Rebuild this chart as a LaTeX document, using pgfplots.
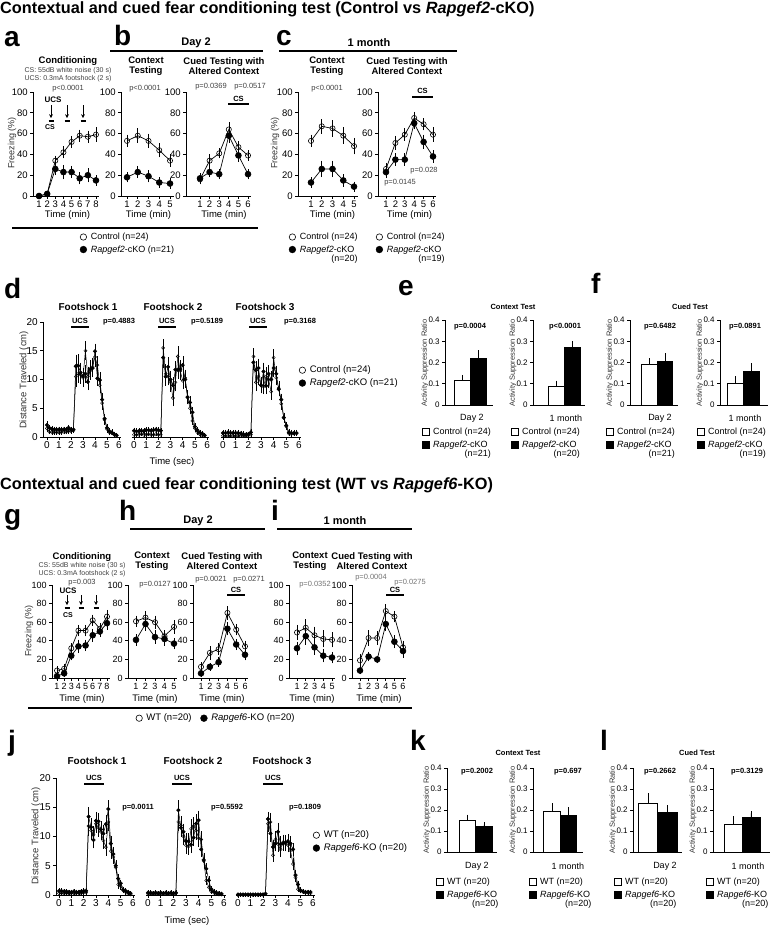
\documentclass[border=0pt]{standalone}
\usepackage{fontspec}
\setmainfont{Liberation Sans}
\usepackage{pgfplots}
\pgfplotsset{compat=1.18}
\usepackage{pgfplotstable}
\usetikzlibrary{arrows.meta}
\newcommand{\fs}[1]{\fontsize{#1}{#1}\selectfont}
\definecolor{pg}{gray}{0.25}
\definecolor{lg}{gray}{0.45}
\definecolor{tg}{gray}{0.2}

\pgfplotstableread{
t c ce k ke
0.0 1.5 0.4 2.1 0.4
0.2 0.9 0.2 1.6 0.3
0.4 0.8 0.2 1.4 0.3
0.6 0.8 0.2 1.3 0.3
0.8 0.8 0.2 1.3 0.3
1.0 0.8 0.2 1.3 0.3
1.2 0.8 0.2 1.3 0.3
1.4 0.9 0.2 1.3 0.3
1.6 0.9 0.2 1.3 0.3
1.8 1.0 0.2 1.6 0.3
2.0 1.0 0.2 1.3 0.3
2.2 1.1 0.2 1.3 0.3
2.4 10.5 1.6 12.3 1.8
2.6 11.0 1.4 12.4 1.8
2.8 10.8 1.3 11.2 1.5
3.0 10.3 1.4 10.6 1.2
3.2 15.0 1.4 11.0 1.3
3.4 10.5 1.5 9.6 1.2
3.6 11.5 1.3 11.8 1.3
3.8 12.2 1.4 12.0 1.4
4.0 13.9 1.5 14.9 1.1
4.2 12.5 1.3 10.2 1.1
4.4 9.0 1.2 9.9 1.2
4.6 5.9 0.9 6.5 0.9
4.8 3.0 0.6 3.2 0.6
5.0 1.4 0.4 1.6 0.4
5.2 0.8 0.3 1.0 0.3
5.4 0.7 0.2 0.8 0.3
5.6 0.4 0.2 0.5 0.2
5.8 0.3 0.2 0.3 0.2
}\dA
\pgfplotstableread{
t c ce k ke
0.0 0.4 0.15 1.1 0.3
0.2 0.4 0.15 1.0 0.3
0.4 0.4 0.15 1.0 0.3
0.6 0.5 0.15 1.1 0.3
0.8 0.4 0.15 1.0 0.3
1.0 0.4 0.15 1.2 0.3
1.2 0.5 0.15 1.2 0.3
1.4 0.4 0.15 1.1 0.3
1.6 0.4 0.15 1.2 0.3
1.8 0.5 0.15 1.3 0.3
2.0 0.4 0.15 1.2 0.3
2.2 0.4 0.15 1.1 0.3
2.4 15.5 1.3 13.8 1.5
2.6 11.0 1.5 10.5 1.4
2.8 10.5 1.3 12.2 1.5
3.0 9.5 1.4 10.0 1.3
3.2 6.8 1.2 9.0 1.2
3.4 9.5 1.3 11.7 1.3
3.6 14.0 1.6 11.7 1.4
3.8 11.5 1.4 11.8 1.3
4.0 9.8 1.3 12.5 1.3
4.2 10.3 1.2 10.0 1.2
4.4 7.0 1.0 6.9 1.0
4.6 5.0 0.8 6.0 0.9
4.8 2.8 0.5 4.3 0.7
5.0 1.5 0.4 1.8 0.4
5.2 0.8 0.3 1.2 0.3
5.4 0.5 0.2 0.8 0.2
5.6 0.3 0.2 0.6 0.2
5.8 0.3 0.1 0.3 0.2
}\dB
\pgfplotstableread{
t c ce k ke
0.0 0.2 0.1 0.7 0.3
0.2 0.2 0.1 0.7 0.3
0.4 0.2 0.1 0.8 0.3
0.6 0.2 0.1 0.7 0.3
0.8 0.2 0.1 0.7 0.3
1.0 0.2 0.1 0.7 0.3
1.2 0.2 0.1 0.7 0.3
1.4 0.2 0.1 0.6 0.3
1.6 0.2 0.1 0.5 0.3
1.8 0.2 0.1 0.4 0.2
2.0 0.3 0.1 0.5 0.2
2.2 0.4 0.1 0.8 0.3
2.4 14.0 1.2 13.0 1.2
2.6 9.5 1.3 11.6 1.4
2.8 10.5 1.3 12.0 1.4
3.0 9.0 1.2 9.0 1.2
3.2 8.8 1.1 11.4 1.3
3.4 10.5 1.4 8.9 1.2
3.6 10.0 1.3 11.0 1.3
3.8 7.9 1.2 10.0 1.2
4.0 13.8 1.2 12.0 1.3
4.2 10.3 1.1 11.0 1.2
4.4 8.5 1.0 8.3 1.0
4.6 5.8 0.8 6.5 0.8
4.8 3.3 0.6 3.4 0.6
5.0 1.8 0.4 2.0 0.4
5.2 0.6 0.2 0.8 0.3
5.4 0.5 0.2 0.7 0.3
5.6 0.6 0.2 0.7 0.3
5.8 0.6 0.2 0.7 0.3
}\dC
\pgfplotstableread{
t c ce k ke
0.0 0.3 0.1 0.7 0.2
0.2 0.3 0.1 0.7 0.2
0.4 0.3 0.1 0.6 0.2
0.6 0.3 0.1 0.6 0.2
0.8 0.3 0.1 0.5 0.2
1.0 0.3 0.1 0.5 0.2
1.2 0.3 0.1 0.6 0.2
1.4 0.3 0.1 0.5 0.2
1.6 0.3 0.1 0.5 0.2
1.8 0.3 0.1 0.6 0.2
2.0 0.4 0.1 0.7 0.2
2.2 0.4 0.1 0.7 0.2
2.4 11.8 1.5 13.4 1.4
2.6 11.0 1.3 11.6 1.3
2.8 10.3 1.2 9.4 1.2
3.0 12.2 1.4 12.7 1.3
3.2 11.5 1.3 12.6 1.2
3.4 10.8 1.2 11.2 1.2
3.6 9.3 1.2 10.5 1.3
3.8 8.2 1.3 12.1 1.4
4.0 12.5 1.4 14.7 1.3
4.2 7.5 1.1 8.8 1.1
4.4 6.5 0.9 7.0 1.0
4.6 4.7 0.8 5.0 0.8
4.8 1.8 0.5 2.8 0.6
5.0 1.5 0.4 2.0 0.4
5.2 0.8 0.3 0.9 0.3
5.4 0.5 0.2 0.7 0.2
5.6 0.2 0.1 0.5 0.2
5.8 0.1 0.1 0.3 0.1
}\jA
\pgfplotstableread{
t c ce k ke
0.0 0.2 0.1 0.4 0.15
0.2 0.2 0.1 0.4 0.15
0.4 0.2 0.1 0.3 0.15
0.6 0.2 0.1 0.4 0.15
0.8 0.2 0.1 0.3 0.15
1.0 0.2 0.1 0.4 0.15
1.2 0.2 0.1 0.3 0.15
1.4 0.2 0.1 0.4 0.15
1.6 0.2 0.1 0.3 0.15
1.8 0.2 0.1 0.4 0.15
2.0 0.2 0.1 0.3 0.15
2.2 0.3 0.1 0.4 0.15
2.4 12.5 1.4 14.5 1.5
2.6 11.9 1.3 11.5 1.3
2.8 10.0 1.3 10.8 1.2
3.0 8.5 1.2 9.2 1.1
3.2 8.3 1.2 9.2 1.1
3.4 11.3 1.4 8.6 1.2
3.6 11.8 1.3 9.8 1.2
3.8 11.0 1.3 12.2 1.4
4.0 9.7 1.3 12.8 1.4
4.2 9.5 1.2 7.8 1.1
4.4 5.8 0.9 6.0 0.9
4.6 2.5 0.5 4.5 0.7
4.8 1.3 0.4 2.5 0.5
5.0 0.6 0.2 1.0 0.3
5.2 0.4 0.2 0.6 0.2
5.4 0.2 0.1 0.4 0.2
5.6 0.1 0.1 0.3 0.1
5.8 0.1 0.1 0.2 0.1
}\jB
\pgfplotstableread{
t c ce k ke
0.0 0.0 0.1 0.1 0.1
0.2 0.0 0.1 0.1 0.1
0.4 0.0 0.1 0.1 0.1
0.6 0.0 0.1 0.1 0.1
0.8 0.0 0.1 0.1 0.1
1.0 0.0 0.1 0.1 0.1
1.2 0.0 0.1 0.1 0.1
1.4 0.0 0.1 0.1 0.1
1.6 0.0 0.1 0.1 0.1
1.8 0.0 0.1 0.1 0.1
2.0 0.1 0.1 0.1 0.1
2.2 0.2 0.1 0.2 0.1
2.4 12.2 1.2 13.0 1.0
2.6 12.5 1.3 10.5 1.2
2.8 6.8 0.9 8.2 1.0
3.0 9.5 1.2 8.8 1.1
3.2 8.7 1.1 10.8 1.3
3.4 7.8 1.1 8.7 1.1
3.6 9.0 1.1 8.8 1.0
3.8 8.8 1.1 9.0 1.0
4.0 8.5 1.0 9.2 1.0
4.2 7.6 1.0 8.8 1.0
4.4 5.3 0.8 7.8 0.9
4.6 3.0 0.6 3.4 0.6
4.8 1.0 0.3 1.8 0.4
5.0 0.7 0.2 0.8 0.3
5.2 0.6 0.2 0.6 0.2
5.4 0.4 0.2 0.5 0.2
5.6 0.4 0.2 0.5 0.2
5.8 0.3 0.2 0.5 0.2
}\jC

\pgfplotsset{
  every axis/.append style={/pgf/number format/assume math mode=true, scale only axis, clip=false,
    axis x line*=bottom, axis y line*=left, axis line style={line width=0.8pt},
    tick align=outside, major tick length=2.8pt, tick style={black, line width=0.7pt},
    tick label style={font=\fs{9.5}}, minor tick num=0, scaled ticks=false,
    xticklabel style={yshift=1.5pt}, yticklabel style={xshift=1pt}},
  fz/.style={ymin=0, ymax=100, ytick={0,20,40,60,80,100}, height=104pt},
  fzb/.style={ymin=0, ymax=100, ytick={0,20,40,60,80,100}, height=93pt, tick label style={font=\fs{9}}},
  ds/.style={ymin=0, ymax=20, ytick={0,5,10,15,20}, xtick={0,...,6}, tick label style={font=\fs{10}}},
  nodeY/.style={axis y line=none},
  baxis/.style={ymin=0, ymax=0.4, ytick={0,0.1,0.2,0.3,0.4}, xtick=\empty,
    yticklabel style={/pgf/number format/fixed, /pgf/number format/precision=1, font=\fs{8}}},
  ctl/.style={black, line width=0.7pt, mark=o, mark size=2.6pt, mark options={fill=white, line width=0.6pt},
    /pgfplots/error bars/y dir=both, /pgfplots/error bars/y explicit,
    /pgfplots/error bars/error bar style={line width=0.6pt},
    /pgfplots/error bars/error mark options={line width=0.6pt, mark size=2pt}},
  mut/.style={ctl, mark=*, mark size=2.9pt, mark options={fill=black}},
  dctl/.style={ctl, line width=0.5pt, mark size=1.6pt, mark options={fill=white, line width=0.4pt},
    /pgfplots/error bars/error bar style={line width=0.4pt},
    /pgfplots/error bars/error mark options={line width=0.4pt, mark size=1.3pt}},
  dmut/.style={dctl, mark=*, mark size=1.8pt, mark options={fill=black}},
  bw/.style={ybar, bar shift=0pt, bar width=1, fill=white, draw=black, line width=0.7pt,
    /pgfplots/error bars/y dir=plus, /pgfplots/error bars/y explicit,
    /pgfplots/error bars/error bar style={line width=0.7pt},
    /pgfplots/error bars/error mark options={line width=0.7pt, mark size=2.2pt}},
  bk/.style={bw, fill=black},
  legax/.style={hide axis, scale only axis, width=5pt, height=5pt, xmin=0, xmax=1, ymin=0, ymax=1, anchor=north west,
    legend style={at={(0,1)}, anchor=north west, draw=none, fill=none, inner sep=0pt, outer sep=0pt,
      font=\fs{9}, row sep=0.5pt, /tikz/every odd column/.append style={column sep=2pt}},
    legend cell align=left},
  lcirc/.style={legend image code/.code={\draw[##1] plot coordinates {(0pt,0pt)};}},
  lsq/.style={legend image code/.code={\draw[##1] (-3.3pt,-3.3pt) rectangle (3.3pt,3.3pt);}},
}
\tikzset{
  ttl/.style={font=\bfseries\fs{16.3}, anchor=base west, inner sep=0pt},
  let/.style={font=\bfseries\fs{28}, anchor=base west, inner sep=0pt},
  hd/.style={font=\bfseries\fs{11}, inner sep=0pt},
  sub/.style={font=\bfseries\fontsize{9.5}{10}\selectfont, align=center, inner sep=0pt},
  sm/.style={font=\fs{7}, text=pg, inner sep=0pt},
  pv/.style={font=\fs{7.5}, text=pg, inner sep=0pt},
  pvl/.style={font=\fs{7.5}, text=lg, inner sep=0pt},
  pb/.style={font=\bfseries\fs{7.5}, inner sep=0pt},
  xl/.style={font=\fs{9.5}, inner sep=0pt},
  yl/.style={font=\fs{9}, text=tg, rotate=90, inner sep=0pt},
  ylb/.style={font=\fs{7.5}, text=tg, rotate=90, inner sep=0pt},
  fsh/.style={font=\bfseries\fs{10}, inner sep=0pt},
  cat/.style={font=\fs{9}, inner sep=0pt},
  bt/.style={font=\bfseries\fs{7.5}, inner sep=0pt},
}
\newcommand{\lcont}[1]{\begin{tabular}[t]{@{}l@{}}\textit{Rapgef2}-cKO\\\hspace*{31.5pt}(n=#1)\end{tabular}}
\newcommand{\lwt}{\begin{tabular}[t]{@{}l@{}}\textit{Rapgef6}-KO\\\hspace*{25pt}(n=20)\end{tabular}}

\begin{document}
\begin{tikzpicture}
\path[use as bounding box] (0pt,0pt) rectangle (779pt,-927pt);

% ================= ROW 1 =================
\begin{axis}[fz, at={(33pt,-196pt)}, anchor=south west, width=66pt, xmin=0.26, xmax=8.37, xtick={1,...,8}]
\addplot[ctl] coordinates {(1,0)+-(0,1) (2,2)+-(0,1) (3,34)+-(0,3) (4,42)+-(0,4) (5,52)+-(0,4) (6,58)+-(0,4) (7,57)+-(0,4) (8,59)+-(0,5)};
\addplot[mut] coordinates {(1,0)+-(0,1) (2,2)+-(0,1) (3,26)+-(0,4) (4,23)+-(0,5) (5,23)+-(0,4) (6,17)+-(0,4) (7,20)+-(0,5) (8,15)+-(0,3)};
\end{axis}
\begin{axis}[fz, at={(121pt,-196pt)}, anchor=south west, width=53pt, xmin=0.44, xmax=5.37, xtick={1,...,5}]
\addplot[ctl] coordinates {(1,53)+-(0,4) (2,58)+-(0,5) (3,53)+-(0,5) (4,44)+-(0,5) (5,34)+-(0,4)};
\addplot[mut] coordinates {(1,18)+-(0,3) (2,23)+-(0,4) (3,19)+-(0,4) (4,13)+-(0,3) (5,12)+-(0,3)};
\end{axis}
\begin{axis}[fz, at={(186pt,-196pt)}, anchor=south west, width=65pt, xmin=-0.46, xmax=6.31, xtick={1,...,6}]
\addplot[ctl] coordinates {(1,16)+-(0,3) (2,34)+-(0,4) (3,41)+-(0,3) (4,64)+-(0,5) (5,47)+-(0,4) (6,39)+-(0,3)};
\addplot[mut] coordinates {(1,17)+-(0,3) (2,23)+-(0,3) (3,21)+-(0,3) (4,58)+-(0,5) (5,39)+-(0,4) (6,21)+-(0,3)};
\end{axis}
\begin{axis}[fz, at={(298pt,-196pt)}, anchor=south west, width=60pt, xmin=-0.21, xmax=5.37, xtick={1,...,5}]
\addplot[ctl] coordinates {(1,53)+-(0,4) (2,67)+-(0,5) (3,65)+-(0,6) (4,58)+-(0,6) (5,48)+-(0,6)};
\addplot[mut] coordinates {(1,13)+-(0,3) (2,26)+-(0,6) (3,26)+-(0,6) (4,15)+-(0,4) (5,9)+-(0,3)};
\end{axis}
\begin{axis}[fz, at={(378pt,-196pt)}, anchor=south west, width=58pt, xmin=0.15, xmax=6.32, xtick={1,...,6}]
\addplot[ctl] coordinates {(1,26)+-(0,4) (2,51)+-(0,5) (3,59)+-(0,4) (4,75)+-(0,4) (5,69)+-(0,4) (6,59)+-(0,5)};
\addplot[mut] coordinates {(1,23)+-(0,4) (2,35)+-(0,4) (3,35)+-(0,4) (4,70)+-(0,4) (5,52)+-(0,5) (6,38)+-(0,4)};
\end{axis}

\node[ttl] at (0pt,-13pt) {Contextual and cued fear conditioning test (Control vs \textit{Rapgef2}-cKO)};
\node[let] at (4pt,-46pt) {a};
\node[let] at (114pt,-45pt) {b};
\node[let] at (276pt,-45pt) {c};
\node[hd] at (196pt,-43pt) {Day 2};
\draw[line width=1.3pt] (110pt,-51pt) -- (263pt,-51pt);
\node[hd] at (369pt,-43pt) {1 month};
\draw[line width=1.3pt] (279pt,-51pt) -- (457pt,-51pt);
\node[sub] at (68pt,-61pt) {Conditioning};
\node[sm] at (68pt,-71pt) {CS: 55dB white noise (30 s)};
\node[sm] at (68pt,-79pt) {UCS: 0.3mA footshock (2 s)};
\node[sub] at (146pt,-66pt) {Context\\Testing};
\node[sub] at (224pt,-66pt) {Cued Testing with\\Altered Context};
\node[sub] at (327pt,-66pt) {Context\\Testing};
\node[sub] at (407pt,-66pt) {Cued Testing with\\Altered Context};
\node[pv] at (68pt,-89pt) {p<0.0001};
\node[pv] at (145pt,-89pt) {p<0.0001};
\node[pv] at (211pt,-87pt) {p=0.0369};
\node[pv] at (250pt,-87pt) {p=0.0517};
\node[pv] at (327pt,-89pt) {p<0.0001};
\node[pv] at (400pt,-183pt) {p=0.0145};
\node[pv] at (424pt,-171pt) {p=0.028};
\draw[line width=1.2pt] (228pt,-104pt) -- (249pt,-104pt);
\node[font=\bfseries\fs{7.5}, inner sep=0pt] at (238.5pt,-99pt) {CS};
\draw[line width=1.2pt] (412pt,-97pt) -- (433pt,-97pt);
\node[font=\bfseries\fs{7.5}, inner sep=0pt] at (422.5pt,-91pt) {CS};
\node[font=\bfseries\fs{8}, inner sep=0pt] at (53pt,-100pt) {UCS};
\foreach \ax in {51,67,83}{
  \draw[-{Stealth[length=3.8pt,width=3.8pt]}, line width=0.9pt] (\ax pt,-105pt) -- (\ax pt,-118pt);
  \draw[line width=1.1pt] (\ax pt-2.5pt,-121pt) -- (\ax pt+2.5pt,-121pt);
}
\node[font=\bfseries\fs{7}, inner sep=0pt] at (50pt,-127pt) {CS};
\node[yl] at (12pt,-143pt) {Freezing (\%)};
\node[yl] at (275pt,-143pt) {Freezing (\%)};
\node[xl] at (67.5pt,-215pt) {Time (min)};
\node[xl] at (148.5pt,-215pt) {Time (min)};
\node[xl] at (224pt,-215pt) {Time (min)};
\node[xl] at (332.5pt,-215pt) {Time (min)};
\node[xl] at (409.5pt,-215pt) {Time (min)};
\draw[line width=1.3pt] (12pt,-228pt) -- (258pt,-228pt);

\begin{axis}[legax, lcirc, at={(80pt,-231pt)}]
\addlegendimage{only marks, mark=o, mark size=3.2pt, mark options={fill=white, line width=0.6pt}, black}
\addlegendentry{Control (n=24)}
\addlegendimage{only marks, mark=*, mark size=3.4pt, black}
\addlegendentry{\textit{Rapgef2}-cKO (n=21)}
\end{axis}
\begin{axis}[legax, lcirc, at={(289pt,-231pt)}]
\addlegendimage{only marks, mark=o, mark size=3.2pt, mark options={fill=white, line width=0.6pt}, black}
\addlegendentry{Control (n=24)}
\addlegendimage{only marks, mark=*, mark size=3.4pt, black}
\addlegendentry{\lcont{20}}
\end{axis}
\begin{axis}[legax, lcirc, at={(376pt,-231pt)}]
\addlegendimage{only marks, mark=o, mark size=3.2pt, mark options={fill=white, line width=0.6pt}, black}
\addlegendentry{Control (n=24)}
\addlegendimage{only marks, mark=*, mark size=3.4pt, black}
\addlegendentry{\lcont{19}}
\end{axis}

% ================= ROW 2 : d =================
\begin{axis}[ds, at={(43pt,-437pt)}, anchor=south west, width=78pt, height=115pt, xmin=-0.333, xmax=6.167]
\addplot[dctl] table[x=t, y=c, y error=ce] {\dA};
\addplot[dmut] table[x=t, y=k, y error=ke] {\dA};
\end{axis}
\begin{axis}[ds, nodeY, at={(132pt,-437pt)}, anchor=south west, width=77pt, height=115pt, xmin=-0.164, xmax=6.16]
\addplot[dctl] table[x=t, y=c, y error=ce] {\dB};
\addplot[dmut] table[x=t, y=k, y error=ke] {\dB};
\end{axis}
\begin{axis}[ds, nodeY, at={(221pt,-437pt)}, anchor=south west, width=80pt, height=115pt, xmin=-0.158, xmax=6.158]
\addplot[dctl] table[x=t, y=c, y error=ce] {\dC};
\addplot[dmut] table[x=t, y=k, y error=ke] {\dC};
\end{axis}
\node[let] at (4pt,-298pt) {d};
\node[fsh] at (88pt,-307pt) {Footshock 1};
\node[fsh] at (173pt,-307pt) {Footshock 2};
\node[fsh] at (265pt,-307pt) {Footshock 3};
\node[pb] at (80pt,-321pt) {UCS};
\draw[line width=1.2pt] (71pt,-327pt) -- (89pt,-327pt);
\node[pb] at (167pt,-321pt) {UCS};
\draw[line width=1.2pt] (158pt,-327pt) -- (176pt,-327pt);
\node[pb] at (258pt,-321pt) {UCS};
\draw[line width=1.2pt] (249pt,-327pt) -- (267pt,-327pt);
\node[pb] at (119pt,-322pt) {p=0.4883};
\node[pb] at (207pt,-322pt) {p=0.5189};
\node[pb] at (300pt,-322pt) {p=0.3168};
\node[yl, font=\fs{9.5}] at (24pt,-380pt) {Distance Traveled (cm)};
\node[xl] at (172pt,-462pt) {Time (sec)};
\begin{axis}[legax, lcirc, at={(299pt,-364pt)}, legend style={font=\fs{9.5}}]
\addlegendimage{only marks, mark=o, mark size=3.2pt, mark options={fill=white, line width=0.6pt}, black}
\addlegendentry{Control (n=24)}
\addlegendimage{only marks, mark=*, mark size=3.4pt, black}
\addlegendentry{\textit{Rapgef2}-cKO (n=21)}
\end{axis}

% ================= ROW 2 : e, f =================
\begin{axis}[baxis, at={(445pt,-405pt)}, anchor=south west, width=48pt, height=85pt, xmin=-0.094, xmax=2.906]
\addplot[bw] coordinates {(1,0.115)+-(0,0.016)};
\addplot[bk] coordinates {(2,0.221)+-(0,0.026)};
\end{axis}
\begin{axis}[baxis, at={(533pt,-405pt)}, anchor=south west, width=52pt, height=85pt, xmin=-0.4375, xmax=2.81]
\addplot[bw] coordinates {(1,0.086)+-(0,0.018)};
\addplot[bk] coordinates {(2,0.271)+-(0,0.019)};
\end{axis}
\begin{axis}[baxis, at={(630pt,-405pt)}, anchor=south west, width=48pt, height=85pt, xmin=-0.26, xmax=2.84]
\addplot[bw] coordinates {(1,0.191)+-(0,0.019)};
\addplot[bk] coordinates {(2,0.204)+-(0,0.029)};
\end{axis}
\begin{axis}[baxis, at={(720pt,-405pt)}, anchor=south west, width=48pt, height=85pt, xmin=0.0625, xmax=3.06]
\addplot[bw] coordinates {(1,0.104)+-(0,0.02)};
\addplot[bk] coordinates {(2,0.158)+-(0,0.029)};
\end{axis}
\node[let] at (398pt,-295pt) {e};
\node[let] at (591pt,-293pt) {f};
\node[bt] at (513pt,-307pt) {Context Test};
\node[bt] at (690pt,-307pt) {Cued Test};
\node[pb] at (470pt,-327pt) {p=0.0004};
\node[pb] at (565pt,-327pt) {p<0.0001};
\node[pb] at (660pt,-327pt) {p=0.6482};
\node[pb] at (745pt,-327pt) {p=0.0891};
\node[ylb] at (425pt,-363pt) {Activity Suppression Ratio};
\node[ylb] at (513pt,-363pt) {Activity Suppression Ratio};
\node[ylb] at (610pt,-363pt) {Activity Suppression Ratio};
\node[ylb] at (700pt,-363pt) {Activity Suppression Ratio};
\node[cat] at (472pt,-418pt) {Day 2};
\node[cat] at (566pt,-418pt) {1 month};
\node[cat] at (660pt,-418pt) {Day 2};
\node[cat] at (745pt,-418pt) {1 month};
\begin{axis}[legax, lsq, at={(422pt,-426pt)}]
\addlegendimage{fill=white, draw=black, line width=0.6pt}
\addlegendentry{Control (n=24)}
\addlegendimage{fill=black, draw=black, line width=0.6pt}
\addlegendentry{\lcont{21}}
\end{axis}
\begin{axis}[legax, lsq, at={(511pt,-426pt)}]
\addlegendimage{fill=white, draw=black, line width=0.6pt}
\addlegendentry{Control (n=24)}
\addlegendimage{fill=black, draw=black, line width=0.6pt}
\addlegendentry{\lcont{20}}
\end{axis}
\begin{axis}[legax, lsq, at={(606pt,-426pt)}]
\addlegendimage{fill=white, draw=black, line width=0.6pt}
\addlegendentry{Control (n=24)}
\addlegendimage{fill=black, draw=black, line width=0.6pt}
\addlegendentry{\lcont{21}}
\end{axis}
\begin{axis}[legax, lsq, at={(697pt,-426pt)}]
\addlegendimage{fill=white, draw=black, line width=0.6pt}
\addlegendentry{Control (n=24)}
\addlegendimage{fill=black, draw=black, line width=0.6pt}
\addlegendentry{\lcont{19}}
\end{axis}

% ================= ROW 3 =================
\begin{axis}[fzb, at={(52pt,-678pt)}, anchor=south west, width=58pt, xmin=0.3, xmax=8.42, xtick={1,...,8}]
\addplot[ctl] coordinates {(1,8)+-(0,3) (2,10)+-(0,3) (3,32)+-(0,3) (4,51)+-(0,4) (5,51)+-(0,4) (6,62)+-(0,4) (7,53)+-(0,4) (8,66)+-(0,5)};
\addplot[mut] coordinates {(1,2)+-(0,2) (2,5)+-(0,2) (3,24)+-(0,3) (4,34)+-(0,5) (5,35)+-(0,4) (6,46)+-(0,5) (7,50)+-(0,4) (8,59)+-(0,5)};
\end{axis}
\begin{axis}[fzb, at={(128pt,-678pt)}, anchor=south west, width=49pt, xmin=0.158, xmax=5.316, xtick={1,...,5}]
\addplot[ctl] coordinates {(1,61)+-(0,4) (2,65)+-(0,5) (3,60)+-(0,5) (4,45)+-(0,4) (5,55)+-(0,5)};
\addplot[mut] coordinates {(1,41)+-(0,4) (2,58)+-(0,5) (3,44)+-(0,5) (4,42)+-(0,5) (5,37)+-(0,4)};
\end{axis}
\begin{axis}[fzb, at={(193pt,-678pt)}, anchor=south west, width=55pt, xmin=0.09, xmax=6.34, xtick={1,...,6}]
\addplot[ctl] coordinates {(1,12)+-(0,3) (2,27)+-(0,5) (3,31)+-(0,4) (4,70)+-(0,5) (5,52)+-(0,4) (6,34)+-(0,4)};
\addplot[mut] coordinates {(1,5)+-(0,2) (2,12)+-(0,2) (3,17)+-(0,3) (4,53)+-(0,5) (5,36)+-(0,4) (6,25)+-(0,4)};
\end{axis}
\begin{axis}[fzb, at={(289pt,-678pt)}, anchor=south west, width=46pt, xmin=0.086, xmax=5.34, xtick={1,...,5}]
\addplot[ctl] coordinates {(1,49)+-(0,6) (2,54)+-(0,7) (3,46)+-(0,7) (4,42)+-(0,7) (5,41)+-(0,6)};
\addplot[mut] coordinates {(1,32)+-(0,5) (2,45)+-(0,7) (3,33)+-(0,6) (4,24)+-(0,5) (5,22)+-(0,4)};
\end{axis}
\begin{axis}[fzb, at={(352pt,-678pt)}, anchor=south west, width=54pt, xmin=0.07, xmax=6.35, xtick={1,...,6}]
\addplot[ctl] coordinates {(1,19)+-(0,5) (2,43)+-(0,6) (3,43)+-(0,5) (4,72)+-(0,5) (5,66)+-(0,4) (6,33)+-(0,5)};
\addplot[mut] coordinates {(1,8)+-(0,2) (2,23)+-(0,3) (3,20)+-(0,2) (4,58)+-(0,5) (5,39)+-(0,5) (6,29)+-(0,5)};
\end{axis}

\node[ttl] at (0pt,-489pt) {Contextual and cued fear conditioning test (WT vs \textit{Rapgef6}-KO)};
\node[let] at (4pt,-524pt) {g};
\node[let] at (119pt,-520pt) {h};
\node[let] at (271pt,-520pt) {i};
\node[hd] at (198pt,-521pt) {Day 2};
\draw[line width=1.3pt] (130pt,-529pt) -- (265pt,-529pt);
\node[hd] at (345pt,-521pt) {1 month};
\draw[line width=1.3pt] (277pt,-529pt) -- (412pt,-529pt);
\node[sub] at (82pt,-557pt) {Conditioning};
\node[sm] at (82pt,-566pt) {CS: 55dB white noise (30 s)};
\node[sm] at (82pt,-574pt) {UCS: 0.3mA footshock (2 s)};
\node[sub] at (152pt,-561pt) {Context\\Testing};
\node[sub] at (222pt,-561pt) {Cued Testing with\\Altered Context};
\node[sub] at (310pt,-561pt) {Context\\Testing};
\node[sub] at (372pt,-561pt) {Cued Testing with\\Altered Context};
\node[pv] at (82pt,-583pt) {p=0.003};
\node[pv] at (155pt,-585pt) {p=0.0127};
\node[pv] at (211pt,-580pt) {p=0.0021};
\node[pv] at (249pt,-580pt) {p=0.0271};
\node[pvl] at (315pt,-585pt) {p=0.0352};
\node[pvl] at (371pt,-578pt) {p=0.0004};
\node[pvl] at (410pt,-583pt) {p=0.0275};
\draw[line width=1.2pt] (227pt,-595pt) -- (245pt,-595pt);
\node[font=\bfseries\fs{7.5}, inner sep=0pt] at (236pt,-590pt) {CS};
\draw[line width=1.2pt] (386pt,-595pt) -- (404pt,-595pt);
\node[font=\bfseries\fs{7.5}, inner sep=0pt] at (395pt,-590pt) {CS};
\node[font=\bfseries\fs{8}, inner sep=0pt] at (68pt,-591pt) {UCS};
\foreach \ax in {67,81,96}{
  \draw[-{Stealth[length=3.8pt,width=3.8pt]}, line width=0.9pt] (\ax pt,-595pt) -- (\ax pt,-605pt);
  \draw[line width=1.1pt] (\ax pt-2.5pt,-608pt) -- (\ax pt+2.5pt,-608pt);
}
\node[font=\bfseries\fs{7}, inner sep=0pt] at (68pt,-615pt) {CS};
\node[yl] at (29pt,-631pt) {Freezing (\%)};
\node[xl] at (82pt,-699pt) {Time (min)};
\node[xl] at (155pt,-699pt) {Time (min)};
\node[xl] at (222pt,-699pt) {Time (min)};
\node[xl] at (312pt,-699pt) {Time (min)};
\node[xl] at (379pt,-699pt) {Time (min)};
\draw[line width=1.3pt] (28pt,-708pt) -- (412pt,-708pt);
\begin{axis}[legax, lcirc, at={(136pt,-712pt)}, legend columns=2, legend style={font=\fs{9.5}, /tikz/every even column/.append style={column sep=7pt}}]
\addlegendimage{only marks, mark=o, mark size=3.2pt, mark options={fill=white, line width=0.6pt}, black}
\addlegendentry{WT (n=20)}
\addlegendimage{only marks, mark=*, mark size=3.4pt, black}
\addlegendentry{\textit{Rapgef6}-KO (n=20)}
\end{axis}

% ================= ROW 4 : j =================
\begin{axis}[ds, at={(56pt,-895pt)}, anchor=south west, width=79pt, height=117pt, xmin=-0.243, xmax=6.16]
\addplot[dctl] table[x=t, y=c, y error=ce] {\jA};
\addplot[dmut] table[x=t, y=k, y error=ke] {\jA};
\end{axis}
\begin{axis}[ds, nodeY, at={(146pt,-895pt)}, anchor=south west, width=80pt, height=117pt, xmin=-0.158, xmax=6.158]
\addplot[dctl] table[x=t, y=c, y error=ce] {\jB};
\addplot[dmut] table[x=t, y=k, y error=ke] {\jB};
\end{axis}
\begin{axis}[ds, nodeY, at={(236pt,-895pt)}, anchor=south west, width=79pt, height=117pt, xmin=-0.16, xmax=6.16]
\addplot[dctl] table[x=t, y=c, y error=ce] {\jC};
\addplot[dmut] table[x=t, y=k, y error=ke] {\jC};
\end{axis}
\node[let] at (8pt,-750pt) {j};
\node[fsh] at (97pt,-761pt) {Footshock 1};
\node[fsh] at (193pt,-761pt) {Footshock 2};
\node[fsh] at (282pt,-761pt) {Footshock 3};
\node[pb] at (94pt,-778pt) {UCS};
\draw[line width=1.2pt] (84pt,-784pt) -- (104pt,-784pt);
\node[pb] at (182pt,-778pt) {UCS};
\draw[line width=1.2pt] (172pt,-784pt) -- (192pt,-784pt);
\node[pb] at (273pt,-778pt) {UCS};
\draw[line width=1.2pt] (263pt,-784pt) -- (283pt,-784pt);
\node[pb] at (138pt,-808pt) {p=0.0011};
\node[pb] at (227pt,-808pt) {p=0.5592};
\node[pb] at (305pt,-808pt) {p=0.1809};
\node[yl, font=\fs{9.5}] at (36pt,-836pt) {Distance Traveled (cm)};
\node[xl] at (187pt,-921pt) {Time (sec)};
\begin{axis}[legax, lcirc, at={(313pt,-829pt)}, legend style={font=\fs{9.5}}]
\addlegendimage{only marks, mark=o, mark size=3.2pt, mark options={fill=white, line width=0.6pt}, black}
\addlegendentry{WT (n=20)}
\addlegendimage{only marks, mark=*, mark size=3.4pt, black}
\addlegendentry{\textit{Rapgef6}-KO (n=20)}
\end{axis}

% ================= ROW 4 : k, l =================
\begin{axis}[baxis, at={(447pt,-852pt)}, anchor=south west, width=50pt, height=84pt, xmin=-0.24, xmax=2.79]
\addplot[bw] coordinates {(1,0.149)+-(0,0.019)};
\addplot[bk] coordinates {(2,0.12)+-(0,0.011)};
\end{axis}
\begin{axis}[baxis, at={(533pt,-852pt)}, anchor=south west, width=50pt, height=84pt, xmin=-0.15, xmax=2.88]
\addplot[bw] coordinates {(1,0.192)+-(0,0.03)};
\addplot[bk] coordinates {(2,0.176)+-(0,0.027)};
\end{axis}
\begin{axis}[baxis, at={(633pt,-852pt)}, anchor=south west, width=49pt, height=84pt, xmin=0.23, xmax=2.74]
\addplot[bw] coordinates {(1,0.232)+-(0,0.038)};
\addplot[bk] coordinates {(2,0.189)+-(0,0.024)};
\end{axis}
\begin{axis}[baxis, at={(713pt,-852pt)}, anchor=south west, width=57pt, height=84pt, xmin=-0.11, xmax=3.06]
\addplot[bw] coordinates {(1,0.133)+-(0,0.026)};
\addplot[bk] coordinates {(2,0.165)+-(0,0.019)};
\end{axis}
\node[let] at (410pt,-750pt) {k};
\node[let] at (600pt,-750pt) {l};
\node[bt] at (518pt,-753pt) {Context Test};
\node[bt] at (697pt,-753pt) {Cued Test};
\node[pb] at (477pt,-772pt) {p=0.2002};
\node[pb] at (568pt,-772pt) {p=0.697};
\node[pb] at (660pt,-772pt) {p=0.2662};
\node[pb] at (747pt,-772pt) {p=0.3129};
\node[ylb] at (427pt,-810pt) {Activity Suppression Ratio};
\node[ylb] at (513pt,-810pt) {Activity Suppression Ratio};
\node[ylb] at (613pt,-810pt) {Activity Suppression Ratio};
\node[ylb] at (693pt,-810pt) {Activity Suppression Ratio};
\node[cat] at (477pt,-866pt) {Day 2};
\node[cat] at (568pt,-866pt) {1 month};
\node[cat] at (665pt,-866pt) {Day 2};
\node[cat] at (748pt,-866pt) {1 month};
\begin{axis}[legax, lsq, at={(436pt,-876pt)}]
\addlegendimage{fill=white, draw=black, line width=0.6pt}
\addlegendentry{WT (n=20)}
\addlegendimage{fill=black, draw=black, line width=0.6pt}
\addlegendentry{\lwt}
\end{axis}
\begin{axis}[legax, lsq, at={(529pt,-876pt)}]
\addlegendimage{fill=white, draw=black, line width=0.6pt}
\addlegendentry{WT (n=20)}
\addlegendimage{fill=black, draw=black, line width=0.6pt}
\addlegendentry{\lwt}
\end{axis}
\begin{axis}[legax, lsq, at={(614pt,-876pt)}]
\addlegendimage{fill=white, draw=black, line width=0.6pt}
\addlegendentry{WT (n=20)}
\addlegendimage{fill=black, draw=black, line width=0.6pt}
\addlegendentry{\lwt}
\end{axis}
\begin{axis}[legax, lsq, at={(706pt,-876pt)}]
\addlegendimage{fill=white, draw=black, line width=0.6pt}
\addlegendentry{WT (n=20)}
\addlegendimage{fill=black, draw=black, line width=0.6pt}
\addlegendentry{\lwt}
\end{axis}

\end{tikzpicture}
\end{document}
